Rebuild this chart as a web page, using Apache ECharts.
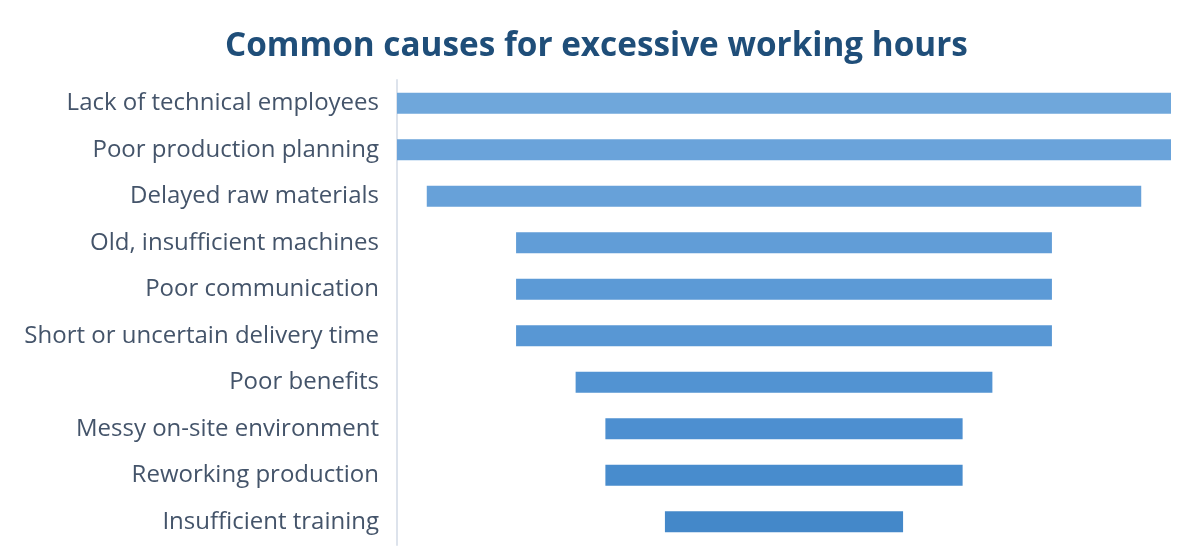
<!DOCTYPE html>
<html><head><meta charset="utf-8">
<script src="https://cdn.jsdelivr.net/npm/echarts@6/dist/echarts.min.js"></script>
<style>html,body{margin:0;padding:0;background:#fff}#c{width:1179px;height:556px}</style>
</head><body><div id="c"></div>
<script>
const categories = ["Lack of technical employees","Poor production planning","Delayed raw materials","Old, insufficient machines","Poor communication","Short or uncertain delivery time","Poor benefits","Messy on-site environment","Reworking production","Insufficient training"];
const values = [26, 26, 24, 18, 18, 18, 14, 12, 12, 8];
const maxValue = 26;
const colors = ["#6fa7db","#6aa3da","#67a1d9","#619dd7","#5c9ad6","#5897d4","#5293d2","#4d8fd0","#488ccd","#4488c9"];

const offsets = values.map(v => (maxValue - v) / 2);
const chart = echarts.init(document.getElementById('c'));
chart.setOption({
  animation: false,
  title: {
    text: "Common causes for excessive working hours",
    left: 220, top: 25,
    textStyle: {fontFamily: "Open Sans", fontWeight: 'bold', fontSize: 33.3, color: '#1f4e79'}
  },
  grid: {left: 397, right: 8, top: 80, bottom: 11},
  xAxis: {type: 'value', min: 0, max: maxValue, show: false},
  yAxis: {
    type: 'category', data: categories, inverse: true,
    axisLine: {show: true, lineStyle: {color: '#dde3ec', width: 2}},
    axisTick: {show: false},
    axisLabel: {fontFamily: "Open Sans", fontSize: 24, color: '#44546a', margin: 18, lineHeight: 28, padding: [5, 0, 0, 0]}
  },
  series: [
    {type: 'bar', stack: 's', data: offsets, itemStyle: {color: 'transparent'}, barWidth: 21, silent: true},
    {type: 'bar', stack: 's', data: values.map((v, i) => ({value: v, itemStyle: {color: colors[i]}})), barWidth: 21}
  ]
});
</script></body></html>
